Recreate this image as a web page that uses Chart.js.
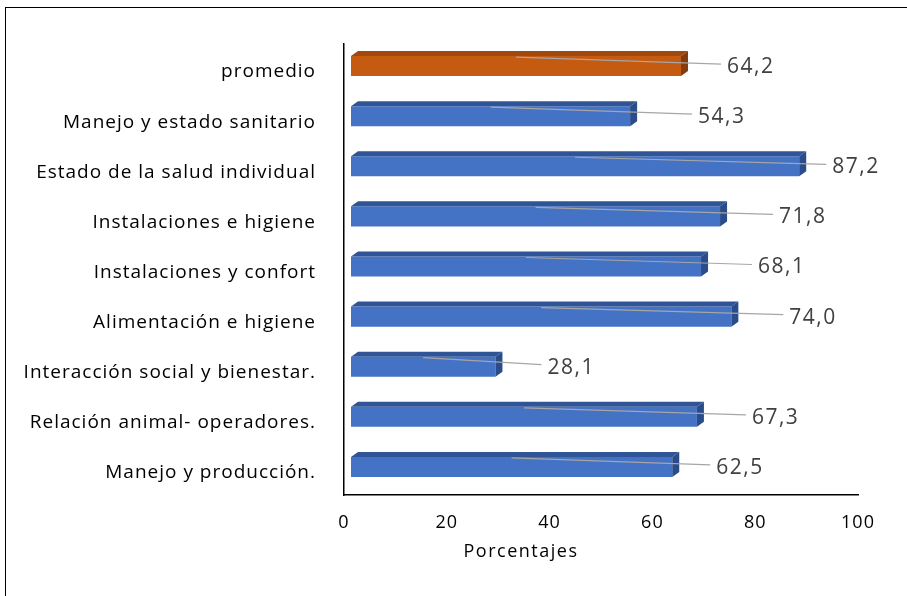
<!DOCTYPE html>
<html>
<head>
<meta charset="utf-8">
<script src="https://cdn.jsdelivr.net/npm/chart.js@4.4.1/dist/chart.umd.min.js"></script>
<style>
  html, body { margin: 0; padding: 0; background: #fff; overflow: hidden; }
  #wrap { position: relative; width: 907px; height: 596px; }
  #marco { position: absolute; left: 5px; top: 7px; width: 1000px; height: 700px; border: 1.5px solid #000; }
  #grafico { position: absolute; left: 0; top: 0; }
</style>
</head>
<body>
<div id="wrap">
  <div id="marco"></div>
  <canvas id="grafico" width="907" height="596"></canvas>
</div>
<script>
const categorias = [
  "promedio",
  "Manejo y estado sanitario",
  "Estado de la salud individual",
  "Instalaciones e higiene",
  "Instalaciones y confort",
  "Alimentación e higiene",
  "Interacción social y bienestar.",
  "Relación animal- operadores.",
  "Manejo y producción.",
];
const porcentajes = [64.2, 54.3, 87.2, 71.8, 68.1, 74.0, 28.1, 67.3, 62.5];
const ticksX = [0, 20, 40, 60, 80, 100];
const tituloX = "Porcentajes";

// distancia (px) entre el final de cada barra y su etiqueta, como en el original
const separacionEtiquetas = [46, 68, 33, 59, 57, 58, 52, 55, 44];

const DX = 7, DY = -5; // profundidad 3D
const colores = categorias.map((c) =>
  c === "promedio"
    ? { frente: "#C55A11", arriba: "#A3480D", lado: "#843C0C" }
    : { frente: "#4472C4", arriba: "#2F5597", lado: "#2B4C8A" }
);

const barras3D = {
  id: "barras3D",
  beforeDraw(chart) {
    // el texto del original es algo más ancho
    chart.ctx.letterSpacing = "1px";
  },
  beforeDatasetsDraw(chart) {
    chart.ctx.letterSpacing = "0px";
    chart.ctx.save();
    chart.ctx.translate(7, -3);
  },
  afterDatasetsDraw(chart) {
    const ctx = chart.ctx;
    const meta = chart.getDatasetMeta(0);
    meta.data.forEach((bar, i) => {
      const izq = bar.base, der = bar.x;
      const arr = bar.y - bar.height / 2, abj = bar.y + bar.height / 2;
      const c = colores[i];
      ctx.fillStyle = c.arriba;
      ctx.beginPath();
      ctx.moveTo(izq, arr);
      ctx.lineTo(izq + DX, arr + DY);
      ctx.lineTo(der + DX, arr + DY);
      ctx.lineTo(der, arr);
      ctx.closePath();
      ctx.fill();
      ctx.fillStyle = c.lado;
      ctx.beginPath();
      ctx.moveTo(der, arr);
      ctx.lineTo(der + DX, arr + DY);
      ctx.lineTo(der + DX, abj + DY);
      ctx.lineTo(der, abj);
      ctx.closePath();
      ctx.fill();

      // etiqueta con línea guía
      const texto = porcentajes[i].toFixed(1).replace(".", ",");
      const xEt = der + separacionEtiquetas[i];
      ctx.strokeStyle = "#A6A6A6";
      ctx.lineWidth = 1.2;
      ctx.beginPath();
      ctx.moveTo((izq + der) / 2, arr + 1);
      ctx.lineTo(xEt - 6, bar.y - 2);
      ctx.stroke();
      ctx.fillStyle = "#404040";
      ctx.font = "21px 'Open Sans'";
      ctx.letterSpacing = "1.5px";
      ctx.textAlign = "left";
      ctx.textBaseline = "middle";
      ctx.fillText(texto, xEt, bar.y + 1);
      ctx.letterSpacing = "0px";
    });
    ctx.restore();
  },
  afterDraw(chart) {
    const ctx = chart.ctx;
    ctx.save();
    ctx.fillStyle = "#000";
    ctx.font = "18px 'Open Sans'";
    ctx.letterSpacing = "1.5px";
    ctx.textAlign = "center";
    ctx.textBaseline = "middle";
    ctx.fillText(tituloX, 521, 552);
    ctx.restore();
  },
};

new Chart(document.getElementById("grafico"), {
  type: "bar",
  data: {
    labels: categorias,
    datasets: [
      {
        data: porcentajes,
        backgroundColor: colores.map((c) => c.frente),
        barPercentage: 0.4,
        categoryPercentage: 1,
      },
    ],
  },
  options: {
    indexAxis: "y",
    responsive: false,
    animation: false,
    layout: { padding: { top: 44, right: 49, left: 0, bottom: 0 } },
    plugins: { legend: { display: false }, tooltip: { enabled: false } },
    scales: {
      x: {
        min: 0,
        max: 100,
        afterBuildTicks: (s) => { s.ticks = ticksX.map((v) => ({ value: v })); },
        grid: { display: false, drawTicks: false },
        border: { color: "#000", width: 1.5 },
        ticks: { color: "#000", font: { family: "'Open Sans'", size: 18 }, padding: 17, maxRotation: 0 },
        afterFit: (s) => { s.height = 101; },
      },
      y: {
        grid: { display: false, drawTicks: false },
        border: { color: "#000", width: 1.5 },
        ticks: { color: "#000", font: { family: "'Open Sans'", size: 19 }, padding: 28, labelOffset: 3, autoSkip: false },
        afterFit: (s) => { s.width = 344; },
      },
    },
  },
  plugins: [barras3D],
});
</script>
</body>
</html>
